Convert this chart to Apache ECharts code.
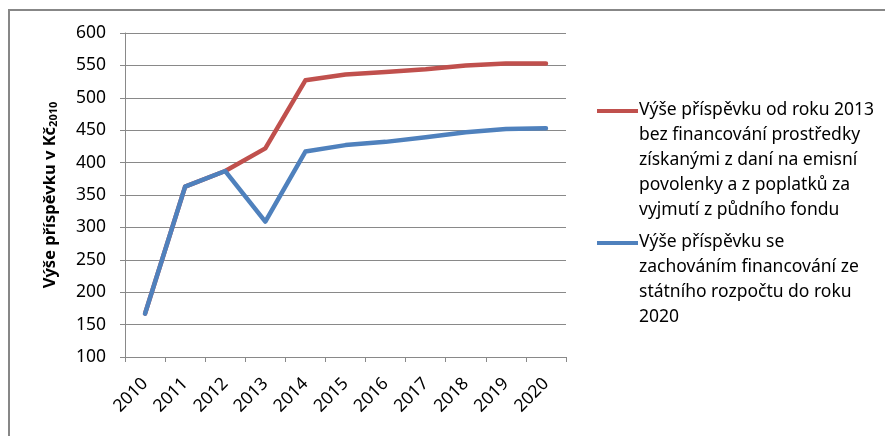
<!DOCTYPE html>
<html><head><meta charset="utf-8">
<script src="https://cdn.jsdelivr.net/npm/echarts@6/dist/echarts.min.js"></script>
<style>html,body{margin:0;padding:0;background:#fff}#c{width:885px;height:436px}</style>
</head><body><div id="c"></div>
<script>
const years = ['2010','2011','2012','2013','2014','2015','2016','2017','2018','2019','2020'];
const seriesNames = [
  'Výše příspěvku od roku 2013 bez financování prostředky získanými z daní na emisní povolenky a z poplatků za vyjmutí z půdního fondu',
  'Výše příspěvku se zachováním financování ze státního rozpočtu do roku 2020'
];
const legendLinesRed = ['Výše příspěvku od roku 2013','bez financování prostředky','získanými z daní na emisní','povolenky a z poplatků za','vyjmutí z půdního fondu'];
const legendLinesBlue = ['Výše příspěvku se','zachováním financování ze','státního rozpočtu do roku','2020'];
const redValues  = [167, 363, 387, 422, 527, 536, 540, 544, 550, 553, 553];
const blueValues = [167, 363, 387, 309, 417, 427, 432, 439, 447, 452, 453];
const yMin = 100, yMax = 600, yStep = 50;
const axisTitle = 'Výše příspěvku v Kč';
const axisTitleSub = '2010';

const FONT = 'Noto Sans';
const RED = '#C0504D', BLUE = '#4F81BD', GRID = '#898989';

const chart = echarts.init(document.getElementById('c'), null, {renderer: 'canvas'});
chart.setOption({
  backgroundColor: '#fff',
  animation: false,
  grid: {left: 125, right: 319, top: 33, bottom: 79, containLabel: false},
  xAxis: {
    type: 'category', data: years, boundaryGap: true,
    axisLine: {lineStyle: {color: GRID, width: 1}},
    axisTick: {show: true, alignWithLabel: false, length: 5, lineStyle: {color: GRID}},
    axisLabel: {interval: 0, rotate: 45, margin: 24, color: '#000', fontFamily: FONT, fontSize: 17.5}
  },
  yAxis: {
    type: 'value', min: yMin, max: yMax, interval: yStep,
    axisLine: {show: true, lineStyle: {color: GRID, width: 1}},
    axisTick: {show: true, length: 5, lineStyle: {color: GRID}},
    splitLine: {show: true, lineStyle: {color: GRID, width: 1}},
    axisLabel: {color: '#000', fontFamily: FONT, fontSize: 17.5, margin: 19},
    name: '{a|' + axisTitle + '}{b|' + axisTitleSub + '}',
    nameLocation: 'middle', nameRotate: 90, nameGap: 66,
    nameTextStyle: {
      rich: {
        a: {fontFamily: FONT, fontWeight: 'bold', fontSize: 16.5, color: '#000', lineHeight: 24, verticalAlign: 'bottom'},
        b: {fontFamily: FONT, fontWeight: 'bold', fontSize: 11, color: '#000', lineHeight: 24, verticalAlign: 'bottom', padding: [7,0,0,0]}
      }
    }
  },
  series: [
    {name: seriesNames[0], type: 'line', data: redValues, showSymbol: false, symbol: 'none',
     lineStyle: {color: RED, width: 4.5, cap: 'round', join: 'round'}, itemStyle: {color: RED}, z: 2},
    {name: seriesNames[1], type: 'line', data: blueValues, showSymbol: false, symbol: 'none',
     lineStyle: {color: BLUE, width: 4.5, cap: 'round', join: 'round'}, itemStyle: {color: BLUE}, z: 3}
  ],
  graphic: [
    {type: 'line', shape: {x1: 8, y1: 10, x2: 885, y2: 10}, style: {stroke: '#878787', lineWidth: 2}},
    {type: 'line', shape: {x1: 9, y1: 10, x2: 9, y2: 436}, style: {stroke: '#878787', lineWidth: 2}},
    {type: 'rect', shape: {x: 597, y: 109, width: 41, height: 4}, style: {fill: RED}},
    {type: 'text', left: 639, top: 98, style: {text: legendLinesRed.join('\n'), font: '17.5px "' + FONT + '"', lineHeight: 25, fill: '#000'}},
    {type: 'rect', shape: {x: 597, y: 241, width: 41, height: 4}, style: {fill: BLUE}},
    {type: 'text', left: 639, top: 230, style: {text: legendLinesBlue.join('\n'), font: '17.5px "' + FONT + '"', lineHeight: 25, fill: '#000'}}
  ]
});
</script>
</body></html>
